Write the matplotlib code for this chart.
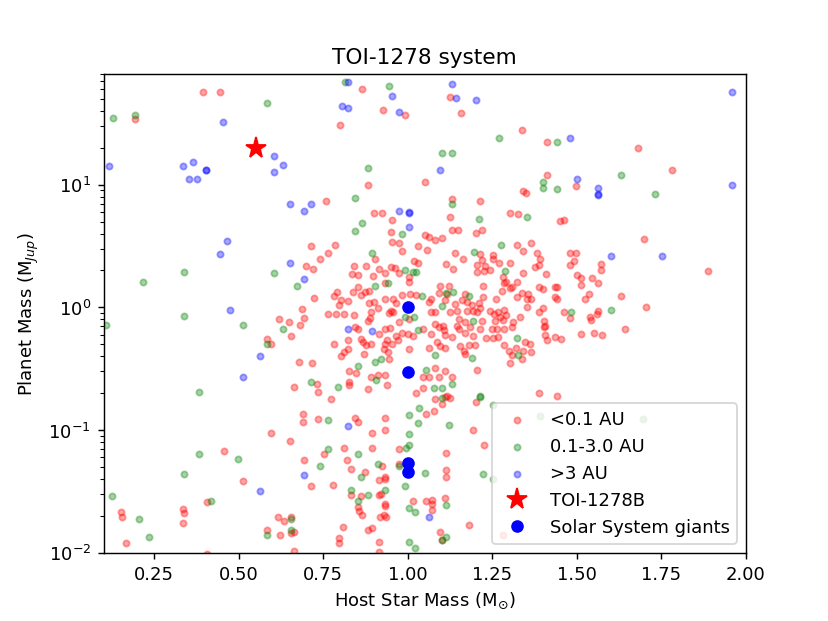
import matplotlib
matplotlib.use('Agg')
import matplotlib.pyplot as plt

# planets closer than 0.1 AU (host star mass, planet mass)
close_star = [0.394, 0.443, 0.193,
    0.863, 1.126, 0.927, 0.992, 1.157, 0.800, 1.337, 0.883, 1.052, 0.759, 1.132, 1.212, 1.341, 1.348, 0.899, 0.923,
    0.953, 0.950, 1.126, 1.302, 1.325, 1.130, 1.147, 1.220, 1.203, 1.052,
    1.411, 1.680, 1.781, 1.411, 1.498, 1.450, 1.462,
    0.713, 0.740, 0.699, 0.720, 0.722, 0.687, 0.620, 0.649, 0.693, 0.682, 0.653, 0.583, 0.594, 0.678, 0.716, 0.732,
    0.664, 0.734,
    1.699, 1.363, 1.888, 1.383, 1.392, 1.481, 1.497, 1.492, 1.481, 1.572, 1.570, 1.375, 1.387, 1.410, 1.501, 1.511,
    1.544, 1.561, 1.511, 1.387, 1.401, 1.435, 1.442, 1.363, 1.435, 1.442, 1.537, 1.525, 1.631, 1.703, 1.401, 1.389,
    1.461, 1.481, 1.563, 1.560, 1.538, 1.541, 1.404, 1.402, 1.407, 1.641, 1.405, 1.411, 1.436, 1.452, 1.513, 1.551,
    1.574, 1.363, 1.389, 1.440,
    0.973, 0.953, 0.785, 0.763, 0.904, 0.983, 1.029, 1.019, 1.029, 0.842, 0.875, 0.834, 0.852, 0.896, 0.916, 0.931,
    0.950, 0.963, 0.975, 1.004, 1.002, 0.931, 0.854, 0.839, 0.874, 0.884, 0.790, 0.783, 0.803, 0.822, 0.796, 0.862,
    0.932, 0.983, 1.006, 1.024, 0.886, 0.901, 0.911, 0.955, 0.965, 0.950, 0.957, 0.945, 0.763, 0.786, 0.810, 0.842,
    0.891, 0.881, 0.888, 1.004, 0.975, 0.845, 0.854, 0.932, 0.947, 0.916, 0.965, 0.983, 1.000, 1.014, 1.044, 0.783,
    0.822, 0.862, 0.867, 0.876, 0.891, 0.931, 0.938, 0.953, 0.970, 0.824, 0.810, 0.803, 0.871, 0.940, 0.928, 1.002,
    0.943, 0.827, 0.847, 0.891, 0.911, 0.933, 0.827, 0.827, 0.881, 0.938, 1.024, 1.044, 1.044,
    1.062, 1.081, 1.101, 1.322, 1.342, 1.057, 1.140, 1.214, 1.253, 1.163, 1.219, 1.252, 1.114, 1.134, 1.204, 1.229,
    1.271, 1.301, 1.204, 1.224, 1.242, 1.340, 1.281, 1.291, 1.283, 1.322, 1.308, 1.222, 1.096, 1.121, 1.091, 1.116,
    1.278, 1.301, 1.337, 1.354, 1.170, 1.322, 1.352, 1.067, 1.062, 1.111, 1.140, 1.160, 1.175, 1.190, 1.222, 1.209,
    1.261, 1.081, 1.126, 1.145, 1.175, 1.194, 1.204, 1.214, 1.242, 1.254, 1.268, 1.283, 1.273, 1.291, 1.332, 1.352,
    1.312, 1.067, 1.150, 1.170, 1.219, 1.258, 1.281, 1.081, 1.091, 1.104, 1.106, 1.145, 1.150, 1.185, 1.214, 1.249,
    1.263, 1.283, 1.308, 1.067, 1.111, 1.131, 1.170, 1.194, 1.232, 1.253, 1.268, 1.347, 1.086, 1.096, 1.111, 1.155,
    1.165, 1.199, 1.180, 1.283, 1.298, 1.320, 1.342, 1.362, 1.062, 1.170, 1.308, 1.337, 1.303, 1.204, 1.081, 1.062,
    1.091, 1.111, 1.131, 1.116,
    0.691, 0.691, 0.733, 0.594, 0.650, 0.456, 0.692, 0.513, 0.713, 0.405, 0.335, 0.338, 0.150, 0.155, 0.335, 0.165,
    0.616, 0.633, 0.653, 0.584, 0.623, 0.655, 0.663, 0.662, 0.405,
    0.773, 1.053, 0.845, 0.852, 0.932, 0.893, 0.932, 0.973, 0.812, 0.893, 0.753, 0.819, 0.833, 0.923, 0.874, 0.974,
    0.933, 0.915, 0.933, 0.778, 0.833, 0.861, 0.915, 0.922, 0.933, 0.933, 0.852, 0.855, 0.863, 1.016, 1.053, 0.917,
    0.935, 0.930, 0.807, 0.883, 0.894, 0.797, 0.797, 0.914, 0.914,
    1.081, 1.101, 1.111, 1.124, 1.078, 1.202, 1.192, 1.224, 1.112, 1.112, 1.112, 1.072, 1.072, 1.072, 1.111, 1.182,
    1.096, 1.101, 1.281]
close_planet = [57.5, 57.5, 34.3,
    60.9, 52, 41, 37, 38.2, 30.6, 27.9, 10, 10.5, 7.35, 7.7, 7.4, 8.9, 8.5, 5.9, 5.9,
    5.2, 4.1, 5.5, 5.9, 5.8, 4.3, 4.3, 4.25, 4.07, 3.9,
    22.2, 20, 13.1, 11.9, 9.8, 5.1, 5.2,
    3.18, 2.49, 2.17, 2.05, 1.19, 0.97, 0.80, 0.76, 0.82, 0.72, 0.58, 0.55, 0.50, 0.36, 0.35, 0.238,
    0.225, 0.206,
    3.59, 3.33, 1.99, 2.79, 2.49, 2.79, 2.79, 2.37, 2.21, 2.25, 2.02, 2.13, 2.2, 1.87, 1.85, 1.74,
    1.72, 1.59, 1.51, 1.46, 1.40, 1.47, 1.47, 1.18, 1.21, 1.17, 1.29, 1.17, 1.24, 1.0, 0.99, 0.92,
    0.92, 0.82, 0.93, 0.89, 0.84, 0.79, 0.77, 0.69, 0.71, 0.66, 0.60, 0.54, 0.57, 0.55, 0.61, 0.62,
    0.59, 0.43, 0.20, 0.19,
    3.33, 3.43, 3.22, 2.75, 2.46, 2.9, 3.18, 2.4, 2.28, 2.17, 2.19, 1.86, 1.82, 1.8, 2.07, 1.91,
    2.14, 2.11, 1.89, 1.77, 1.61, 1.58, 1.47, 1.34, 1.34, 1.36, 1.34, 1.23, 1.14, 1.12, 1.04, 1.25,
    1.18, 1.25, 1.29, 1.25, 1.08, 1.11, 0.99, 1.18, 1.08, 0.94, 0.92, 0.90, 0.89, 0.88, 0.88, 0.86,
    0.92, 0.77, 0.82, 0.81, 0.76, 0.69, 0.66, 0.67, 0.68, 0.61, 0.58, 0.62, 0.61, 0.58, 0.66, 0.50,
    0.54, 0.55, 0.52, 0.49, 0.50, 0.50, 0.54, 0.50, 0.54, 0.46, 0.43, 0.40, 0.42, 0.43, 0.46, 0.46,
    0.38, 0.30, 0.29, 0.27, 0.28, 0.28, 0.244, 0.234, 0.215, 0.234, 0.20, 0.22, 0.27,
    3.77, 3.54, 3.66, 3.22, 2.9, 2.93, 2.79, 2.72, 2.67, 2.46, 2.43, 2.46, 2.25, 2.07, 2.21, 2.17,
    2.32, 2.31, 1.95, 1.99, 2.01, 1.89, 1.77, 1.61, 1.58, 1.61, 1.47, 1.49, 1.49, 1.49, 1.31, 1.28,
    1.36, 1.45, 1.31, 1.28, 1.29, 1.22, 1.18, 1.18, 1.11, 1.14, 1.07, 1.14, 1.11, 1.04, 1.22, 1.08,
    1.16, 0.92, 0.92, 0.94, 0.94, 0.94, 0.92, 0.98, 0.94, 0.89, 0.92, 0.96, 0.83, 0.86, 0.83, 1.01,
    0.76, 0.92, 0.81, 0.76, 0.78, 0.78, 0.79, 0.73, 0.69, 0.71, 0.65, 0.71, 0.67, 0.69, 0.67, 0.66,
    0.66, 0.66, 0.69, 0.61, 0.60, 0.57, 0.62, 0.58, 0.56, 0.56, 0.57, 0.52, 0.52, 0.48, 0.47, 0.48,
    0.44, 0.49, 0.49, 0.49, 0.44, 0.47, 0.44, 0.50, 0.47, 0.42, 0.41, 0.38, 0.35, 0.31, 0.32, 0.27,
    0.27, 0.30, 0.27, 0.19,
    0.135, 0.117, 0.122, 0.0946, 0.0818, 0.0678, 0.0565, 0.0385, 0.0348, 0.0257, 0.0228, 0.021, 0.0213, 0.0196,
    0.0174, 0.0119, 0.0196, 0.018, 0.0196, 0.0152, 0.014, 0.0144, 0.0147, 0.0103, 0.0098,
    0.179, 0.135, 0.126, 0.117, 0.125, 0.0946, 0.0995, 0.0695, 0.0718, 0.0718, 0.0632, 0.0568, 0.0477, 0.0507,
    0.0456, 0.0524, 0.0412, 0.0388, 0.0395, 0.0359, 0.0294, 0.0288, 0.0294, 0.030, 0.0251, 0.0238, 0.0234, 0.022,
    0.0201, 0.0262, 0.0266, 0.0197, 0.0194, 0.0201, 0.0163, 0.0153, 0.016, 0.0131, 0.0119, 0.0121, 0.0102,
    0.179, 0.164, 0.187, 0.184, 0.143, 0.170, 0.0995, 0.0753, 0.0653, 0.0468, 0.0412, 0.027, 0.0249, 0.0224,
    0.0279, 0.0169, 0.0147, 0.0126, 0.0138]

# planets between 0.1 and 3.0 AU
mid_star = [0.583, 0.129, 0.194,
    0.813, 0.943, 1.271, 1.102, 1.132, 0.882, 0.843, 1.132, 0.863, 0.843, 0.982, 1.211, 1.351,
    1.442, 1.400, 1.400, 1.442, 1.631, 1.731,
    0.338, 0.603, 0.218, 0.673, 0.338, 0.106, 0.513, 0.630, 0.583, 0.713, 0.383,
    1.601, 1.482,
    0.893, 0.993, 1.014, 1.024, 0.940, 0.903, 1.042, 0.993, 1.017, 1.029, 0.921, 0.904, 0.854, 0.906, 0.793, 1.053,
    1.276, 1.197, 1.286, 1.114, 1.134, 1.182, 1.101, 1.194, 1.322, 1.081, 1.190, 1.325, 1.131, 1.101, 1.078, 1.214,
    0.383, 0.498, 0.740, 0.338, 0.125, 0.417, 0.204, 0.235, 0.653, 0.584, 0.653,
    1.034, 0.763, 1.004, 1.031, 1.004, 1.004, 0.994, 0.763, 0.854, 0.913, 0.974, 0.861, 1.051, 0.992, 0.833, 0.933,
    0.883, 0.854, 1.002, 1.022, 1.002, 1.022,
    1.101, 1.214, 1.252, 1.121, 1.222, 1.252, 1.114, 1.114, 1.101,
    1.390, 1.697]
mid_planet = [46, 34.8, 36.8,
    69, 64, 24, 18.3, 18.3, 13.6, 7.8, 6.9, 4.85, 4.2, 4.0, 5.3, 5.5,
    22.2, 10.5, 9.45, 9.3, 11.9, 8.4,
    1.94, 1.9, 1.62, 1.5, 0.85, 0.72, 0.72, 0.66, 0.50, 0.246, 0.204,
    0.96, 0.92,
    2.75, 2.01, 1.94, 1.94, 1.59, 1.50, 1.23, 0.83, 0.83, 0.65, 0.38, 0.36, 0.33, 0.255, 0.226, 0.31,
    3.22, 2.84, 1.99, 1.31, 1.34, 1.23, 1.02, 0.77, 0.56, 0.41, 0.39, 0.41, 0.237, 0.22, 0.22, 0.19,
    0.064, 0.058, 0.051, 0.0436, 0.029, 0.0262, 0.0189, 0.0135, 0.0187, 0.014, 0.0153,
    0.150, 0.121, 0.133, 0.114, 0.0922, 0.0753, 0.0718, 0.0695, 0.064, 0.053, 0.0507, 0.0412, 0.0448, 0.0348,
    0.0327, 0.0327, 0.0297, 0.0266, 0.0231, 0.0213, 0.0122, 0.0109,
    0.182, 0.187, 0.160, 0.110, 0.0439, 0.0395, 0.0243, 0.0134, 0.0126,
    0.131, 0.123]

# planets beyond 3 AU
far_star = [0.454, 0.604, 0.630, 0.604, 0.115, 0.334, 0.364, 0.404, 0.404, 0.353, 0.375, 0.650, 0.693, 0.713,
    0.823, 1.132, 0.953, 1.143, 1.203, 0.804, 0.823, 0.973, 1.095, 0.973, 1.003, 1.003, 1.003,
    1.96, 1.481, 1.501, 1.561, 1.561, 1.561, 1.96,
    0.464, 0.443, 0.650, 0.693, 0.473, 0.563, 0.513,
    1.601, 1.751, 0.823, 0.893, 0.693, 0.563, 0.823, 1.062]
far_planet = [32.7, 17.3, 14.5, 12.7, 14.1, 14.2, 15.2, 13.3, 13.1, 11.2, 11.2, 7.0, 6.1, 6.9,
    69, 66, 53, 51, 49, 43.6, 42, 38.9, 13.3, 6.1, 6.0, 5.9, 4.55,
    57.5, 24.1, 11.1, 9.4, 8.4, 8.2, 10.0,
    3.5, 2.73, 2.28, 1.71, 0.95, 0.40, 0.27,
    2.6, 2.6, 0.67, 0.64, 0.043, 0.0316, 0.107, 0.0194]

toi_star = [0.55]
toi_planet = [20.0]

solar_star = [1.0, 1.0, 1.0, 1.0]
solar_planet = [1.0, 0.299, 0.054, 0.0457]

fig, ax = plt.subplots(figsize=(6.4, 4.8), dpi=129.5)

ax.scatter(close_star, close_planet, s=12, c='red', alpha=0.35, linewidths=1, label='<0.1 AU')
ax.scatter(mid_star, mid_planet, s=12, c='green', alpha=0.35, linewidths=1, label='0.1-3.0 AU')
ax.scatter(far_star, far_planet, s=12, c='blue', alpha=0.35, linewidths=1, label='>3 AU')
ax.plot(toi_star, toi_planet, 'r*', markersize=12, linestyle='none', label='TOI-1278B')
ax.plot(solar_star, solar_planet, 'bo', markersize=6, linestyle='none', label='Solar System giants')

ax.set_yscale('log')
ax.set_xlim(0.1, 2.0)
ax.set_ylim(0.01, 80)
ax.set_xlabel(r'Host Star Mass (M$_{\odot}$)')
ax.set_ylabel(r'Planet Mass (M$_{Jup}$)')
ax.set_title('TOI-1278 system')
ax.legend(loc='lower right')

plt.savefig('out.png', dpi=129.5)
